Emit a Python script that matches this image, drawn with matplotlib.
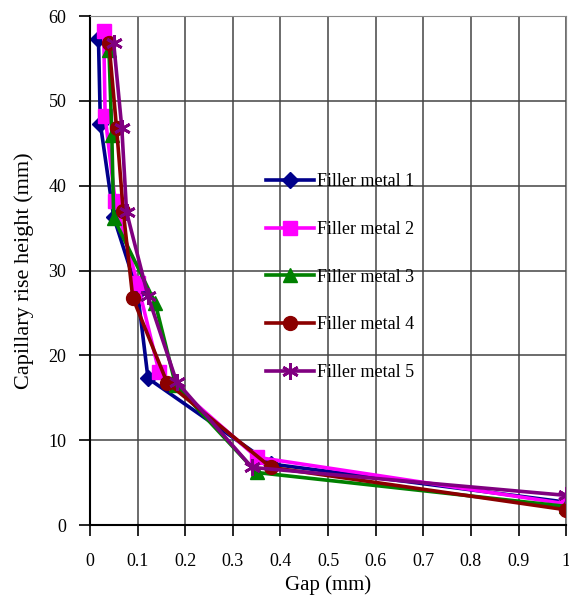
import matplotlib
matplotlib.use('Agg')
from matplotlib import pyplot as plt

# gap (mm) and capillary rise height (mm) for each filler metal
gap_1 = [0.018, 0.022, 0.05, 0.10, 0.122, 0.38, 1.0]
height_1 = [57.3, 47.3, 36.3, 27.5, 17.3, 7.2, 2.7]

gap_2 = [0.029, 0.032, 0.053, 0.10, 0.145, 0.35, 1.0]
height_2 = [58.2, 48.2, 38.2, 28.5, 18.1, 8.0, 2.5]

gap_3 = [0.040, 0.046, 0.050, 0.137, 0.18, 0.35, 1.0]
height_3 = [56.0, 46.0, 36.2, 26.2, 16.5, 6.2, 2.2]

gap_4 = [0.040, 0.056, 0.07, 0.09, 0.162, 0.38, 1.0]
height_4 = [56.8, 46.8, 37.0, 26.8, 16.8, 6.8, 1.8]

gap_5 = [0.050, 0.067, 0.077, 0.122, 0.182, 0.34, 1.0]
height_5 = [56.8, 46.8, 36.9, 27.0, 16.9, 6.8, 3.5]

labels = ['Filler metal 1', 'Filler metal 2', 'Filler metal 3',
          'Filler metal 4', 'Filler metal 5']
x_ticks = [0, 0.1, 0.2, 0.3, 0.4, 0.5, 0.6, 0.7, 0.8, 0.9, 1]
x_tick_labels = ['0', '0.1', '0.2', '0.3', '0.4', '0.5', '0.6', '0.7', '0.8', '0.9', '1']
y_ticks = [0, 10, 20, 30, 40, 50, 60]

plt.rcParams['font.family'] = ['Liberation Serif', 'DejaVu Serif']

fig = plt.figure(figsize=(5.69, 5.96), dpi=100)
ax = fig.add_axes([0.158, 0.119, 0.837, 0.854])

styles = [
    dict(color='#00008B', marker='D', markersize=8),
    dict(color='#FF00FF', marker='s', markersize=10),
    dict(color='#008000', marker='^', markersize=10),
    dict(color='#8B0000', marker='o', markersize=10),
    dict(color='#800080', marker=(6, 2, 0), markersize=12, markeredgewidth=2),
]
series = [(gap_1, height_1), (gap_2, height_2), (gap_3, height_3),
          (gap_4, height_4), (gap_5, height_5)]

for (g, h), lab, st in zip(series, labels, styles):
    ax.plot(g, h, linewidth=2.6, label=lab, **st)

ax.set_xlim(0, 1)
ax.set_ylim(0, 60)
ax.set_xticks(x_ticks)
ax.set_xticklabels(x_tick_labels)
ax.set_yticks(y_ticks)
ax.tick_params(axis='both', direction='out', length=8, width=1.2,
               labelsize=13, pad=9)
ax.tick_params(axis='x', pad=12)
ax.grid(True, color='#444444', linewidth=1.1)
ax.set_axisbelow(True)
for side in ['top', 'right']:
    ax.spines[side].set_color('#888888')
for side in ['left', 'bottom']:
    ax.spines[side].set_linewidth(1.5)

ax.set_xlabel('Gap (mm)', fontsize=15, labelpad=4)
ax.set_ylabel('Capillary rise height (mm)', fontsize=16, labelpad=10)

ax.legend(loc='center', bbox_to_anchor=(0.525, 0.487), frameon=False,
          fontsize=13, handlelength=2.7, labelspacing=1.7, handletextpad=0.15)

plt.savefig('out.png', dpi=100)
